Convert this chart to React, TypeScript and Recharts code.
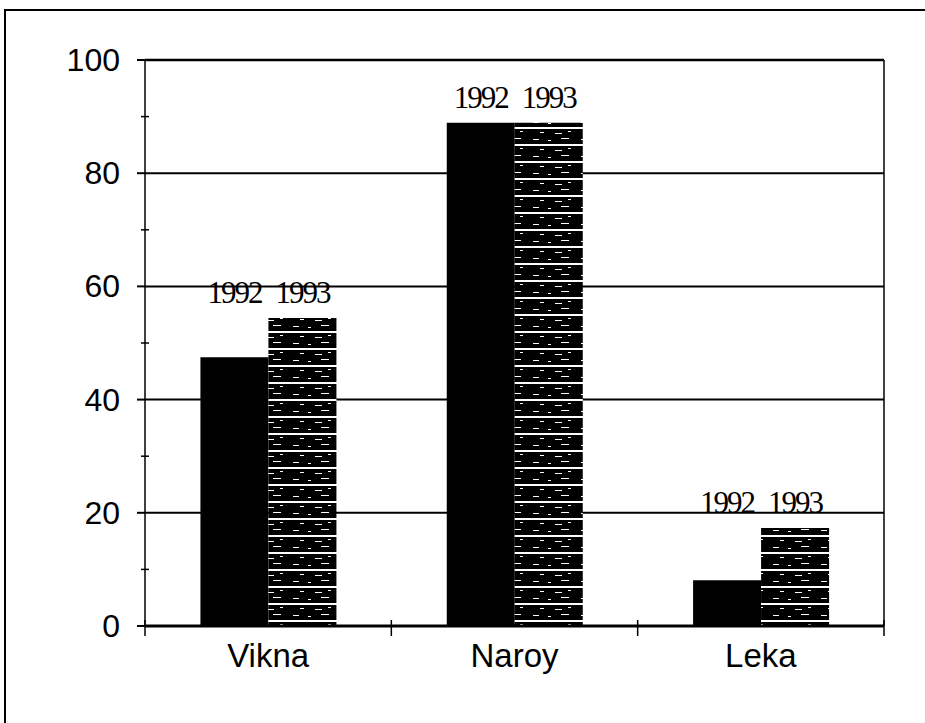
import { BarChart, Bar, XAxis, YAxis, CartesianGrid, ReferenceLine } from 'recharts'

const categories = ['Vikna', 'Naroy', 'Leka']
const values1992 = [47.5, 88.9, 8.1]
const values1993 = [54.4, 88.9, 17.3]
const yTicks = [0, 10, 20, 30, 40, 50, 60, 70, 80, 90, 100]
const gridValues = [20, 40, 60, 80]

const data = categories.map((name, i) => ({ name, y1992: values1992[i], y1993: values1993[i] }))

const W = 925
const H = 723
const PLOT_LEFT = 145
const MARGIN_RIGHT = 41
const PLOT_RIGHT = W - MARGIN_RIGHT
const BAND = (PLOT_RIGHT - PLOT_LEFT) / categories.length
const AXIS_Y = 626

const sans = '"Liberation Sans", Arial, sans-serif'
const serif = '"Liberation Serif", "Times New Roman", serif'

const YTick = (props: any) => {
  const { y, payload } = props
  const v = payload.value
  if (v % 20 !== 0) {
    return <line x1={PLOT_LEFT - 4} x2={PLOT_LEFT + 4} y1={y} y2={y} stroke="#000" strokeWidth={1.5} />
  }
  return (
    <g>
      <line x1={PLOT_LEFT - 8} x2={PLOT_LEFT} y1={y} y2={y} stroke="#000" strokeWidth={2} />
      <text x={120} y={y} dy={11} textAnchor="end" fontFamily={sans} fontSize={32} fill="#000">{v}</text>
    </g>
  )
}

const XTick = (props: any) => {
  const { x, payload, index } = props
  return (
    <g>
      {index === 0 && <line x1={x - BAND / 2} x2={x - BAND / 2} y1={AXIS_Y - 6} y2={AXIS_Y + 10} stroke="#000" strokeWidth={1.5} />}
      <line x1={x + BAND / 2} x2={x + BAND / 2} y1={AXIS_Y - 6} y2={AXIS_Y + 10} stroke="#000" strokeWidth={1.5} />
      <text x={x} y={667} textAnchor="middle" fontFamily={sans} fontSize={33} fill="#000">{payload.value}</text>
    </g>
  )
}

// year label sits above the taller bar of the pair
const yearLabel = (year: string) => (props: any) => {
  const { x, y, width, height, value, index } = props
  if (!value) return null
  const groupMax = Math.max(values1992[index], values1993[index])
  const perUnit = height / value
  const top = y + height - groupMax * perUnit
  return (
    <text x={x + width / 2} y={top - 15} textAnchor="middle" fontFamily={serif} fontSize={31} letterSpacing={-2} fill="#000">{year}</text>
  )
}

export default function App() {
  return (
    <div style={{ position: 'absolute', left: 0, top: 0, width: W, height: H, overflow: 'hidden', background: '#fff' }}>
      <div style={{ position: 'absolute', left: 4, top: 9, width: 960, height: 760, border: '2px solid #000' }} />
      <div style={{ position: 'absolute', left: 0, top: 0 }}>
        <BarChart width={W} height={H} data={data} margin={{ top: 60, right: MARGIN_RIGHT, bottom: 0, left: 0 }} barCategoryGap="22.5%" barGap={0}>
          <defs>
            <pattern id="stripes" width={48} height={17} patternUnits="userSpaceOnUse">
              <rect width={48} height={17} fill="#000" />
              <rect x={0} y={8} width={48} height={2} fill="#fff" />
              <rect x={5} y={3} width={6} height={1} fill="#fff" />
              <rect x={20} y={4} width={3} height={1} fill="#fff" />
              <rect x={33} y={2} width={8} height={1} fill="#fff" />
              <rect x={12} y={13} width={4} height={1} fill="#fff" />
              <rect x={40} y={12} width={3} height={1} fill="#fff" />
              <rect x={27} y={14} width={7} height={1} fill="#fff" />
            </pattern>
          </defs>
          <CartesianGrid vertical={false} horizontalValues={gridValues} stroke="#000" strokeWidth={2} />
          <CartesianGrid horizontal={false} verticalPoints={[PLOT_RIGHT]} stroke="#000" strokeWidth={1.5} />
          <ReferenceLine y={100} stroke="#000" strokeWidth={2.5} />
          <XAxis dataKey="name" height={H - AXIS_Y} axisLine={{ stroke: '#000', strokeWidth: 3 }} tickLine={false} tick={<XTick />} interval={0} />
          <YAxis domain={[0, 100]} ticks={yTicks} width={PLOT_LEFT} axisLine={{ stroke: '#000', strokeWidth: 1.5 }} tickLine={false} tick={<YTick />} interval={0} />
          <Bar dataKey="y1992" fill="#000" isAnimationActive={false} label={yearLabel('1992')} />
          <Bar dataKey="y1993" fill="url(#stripes)" isAnimationActive={false} label={yearLabel('1993')} />
        </BarChart>
      </div>
    </div>
  )
}
